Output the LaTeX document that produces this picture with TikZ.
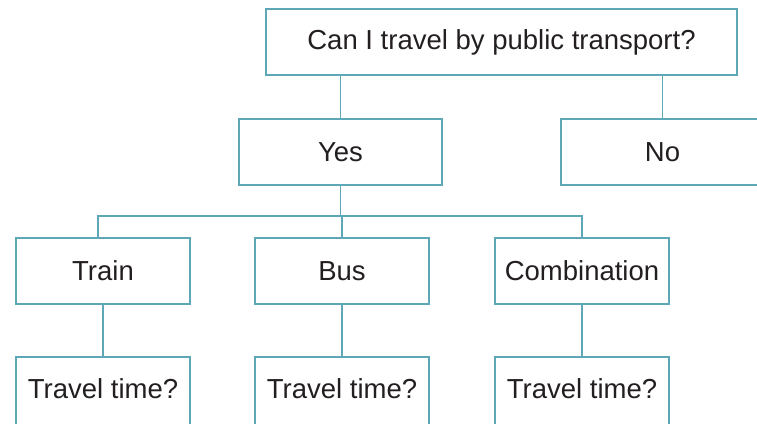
\documentclass[tikz,border=0pt]{standalone}
\usepackage{fontspec}
\setmainfont{Liberation Sans}
\definecolor{boxline}{RGB}{94,167,183}
\definecolor{boxtext}{RGB}{35,31,32}
\begin{document}
\begin{tikzpicture}[x=1pt,y=-1pt,
  treebox/.style={draw=boxline, line width=1.6pt, fill=white, text=boxtext,
    minimum height=66pt, inner sep=0pt,
    font=\fontsize{27.5}{33}\selectfont},
  link/.style={draw=boxline, line width=1.8pt}]
\useasboundingbox (0,0) rectangle (757,423);
% question and answers
\node[treebox, minimum width=471pt] (q)   at (501.5,42)  {Can I travel by public transport?};
\node[treebox, minimum width=203pt] (yes) at (340.5,152) {Yes};
\node[treebox, minimum width=203pt] (no)  at (662.5,152) {No};
% modes of transport
\node[treebox, minimum width=174pt] (train) at (103,271) {Train};
\node[treebox, minimum width=174pt] (bus)   at (342,271) {Bus};
\node[treebox, minimum width=174pt] (comb)  at (582,271) {Combination};
% follow-up questions
\node[treebox, minimum width=174pt, minimum height=70pt] (tt1) at (103,392) {};
\node[treebox, minimum width=174pt, minimum height=70pt] (tt2) at (342,392) {};
\node[treebox, minimum width=174pt, minimum height=70pt] (tt3) at (582,392) {};
\node[text=boxtext, font=\fontsize{27.5}{33}\selectfont] (tt1t) at (103,389) {Travel time?};
\node[text=boxtext, font=\fontsize{27.5}{33}\selectfont] (tt2t) at (342,389) {Travel time?};
\node[text=boxtext, font=\fontsize{27.5}{33}\selectfont] (tt3t) at (582,389) {Travel time?};
% connectors
\coordinate (bar) at (0,216);
\draw[link] (yes.north |- q.south) -- (yes.north);
\draw[link] (no.north |- q.south) -- (no.north);
\draw[link] (yes.south) -- (yes.south |- bar);
\draw[link] ([xshift=-5pt]train.north) -- ([xshift=-5pt]train.north |- bar) -- (comb.north |- bar) -- (comb.north);
\draw[link] (bus.north |- bar) -- (bus.north);
\draw[link] (train.south) -- (tt1.north);
\draw[link] (bus.south) -- (tt2.north);
\draw[link] (comb.south) -- (tt3.north);
\end{tikzpicture}
\end{document}
